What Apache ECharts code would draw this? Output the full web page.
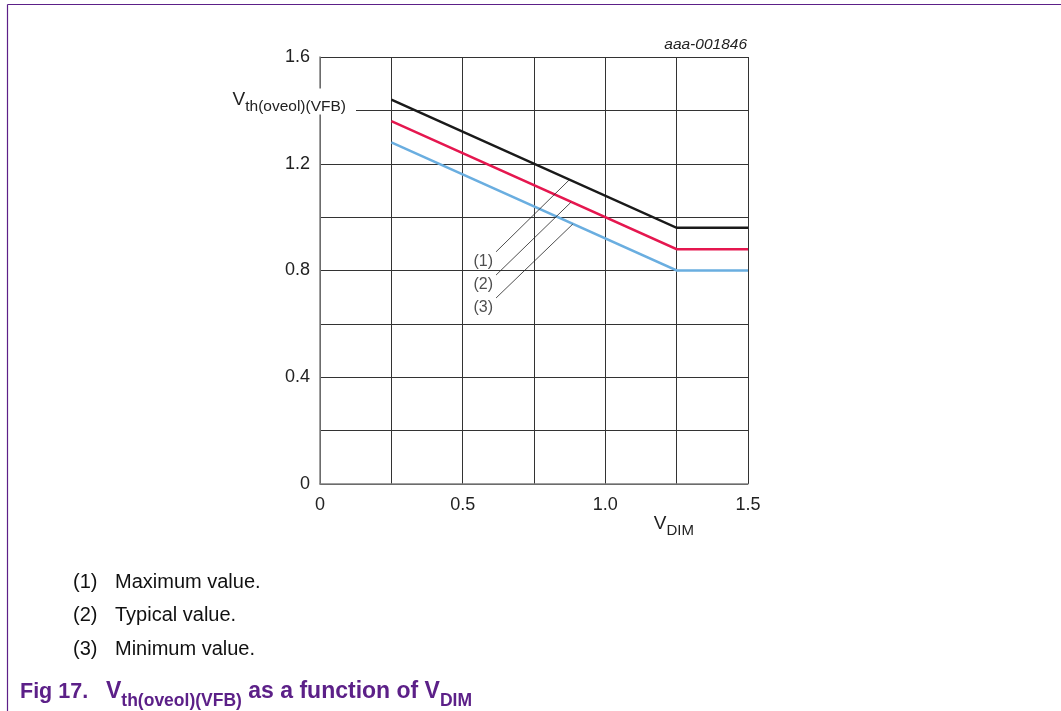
<!DOCTYPE html>
<html>
<head>
<meta charset="utf-8">
<script src="https://cdn.jsdelivr.net/npm/echarts@6/dist/echarts.min.js"></script>
<style>
  html, body { margin: 0; padding: 0; background: #fff; }
  #main { width: 1061px; height: 711px; }
</style>
</head>
<body>
<div id="main"></div>
<script>
// V_DIM points where the curves break
var vDim = [0.25, 1.25, 1.5];
// threshold values (V)
var maxVals = [1.44, 0.96, 0.96];
var typVals = [1.36, 0.88, 0.88];
var minVals = [1.28, 0.80, 0.80];

// tick labels
var xTickVals = [0, 0.5, 1.0, 1.5];
var xTickText = ['0', '0.5', '1.0', '1.5'];
var yTickVals = [0, 0.4, 0.8, 1.2, 1.6];
var yTickText = ['0', '0.4', '0.8', '1.2', '1.6'];

// callout leaders: start (near label) and end (on curve)
var leaderNames = ['(1)', '(2)', '(3)'];
var leaderStart = [[0.617, 0.870], [0.617, 0.783], [0.617, 0.697]];
var leaderEnd = [[0.874, 1.140], [0.879, 1.055], [0.886, 0.974]];

var notes = [['(1)', 'Maximum value.'], ['(2)', 'Typical value.'], ['(3)', 'Minimum value.']];

var FONT = '"Liberation Sans", Arial, sans-serif';
var PURPLE = '#5c2088';

function pickLabel(vals, texts) {
  return function (v) {
    for (var i = 0; i < vals.length; i++) {
      if (Math.abs(vals[i] - v) < 1e-6) return texts[i];
    }
    return '';
  };
}

function pairs(xs, ys) {
  return xs.map(function (x, i) { return [x, ys[i]]; });
}

var chart = echarts.init(document.getElementById('main'), null, { renderer: 'canvas' });

var series = [
  { name: 'max', data: pairs(vDim, maxVals), color: '#1a1a1a' },
  { name: 'typ', data: pairs(vDim, typVals), color: '#e5174f' },
  { name: 'min', data: pairs(vDim, minVals), color: '#6aaee0' }
].map(function (s) {
  return {
    name: s.name,
    type: 'line',
    data: s.data,
    symbol: 'none',
    z: 5,
    lineStyle: { color: s.color, width: 2.5, cap: 'butt', join: 'miter' }
  };
});

// leader lines
leaderStart.forEach(function (p, i) {
  series.push({
    type: 'line',
    data: [p, leaderEnd[i]],
    symbol: 'none',
    z: 6,
    silent: true,
    lineStyle: { color: '#222', width: 0.8 }
  });
});

// leader labels
series.push({
  type: 'scatter',
  symbolSize: 0,
  z: 7,
  data: leaderStart.map(function (p, i) { return { value: p, name: leaderNames[i] }; }),
  label: {
    show: true,
    position: 'left',
    distance: 3,
    offset: [0, 10],
    formatter: function (d) { return d.name; },
    color: '#222',
    fontFamily: FONT,
    fontSize: 16
  }
});

var option = {
  animation: false,
  backgroundColor: '#fff',
  grid: { left: 320, right: 313, top: 57, bottom: 227, containLabel: false },
  xAxis: {
    type: 'value',
    min: 0,
    max: 1.5,
    interval: 0.25,
    axisLine: { show: true, lineStyle: { color: '#808080', width: 1.5 } },
    axisTick: { show: false },
    splitLine: { show: true, lineStyle: { color: '#333', width: 1 } },
    axisLabel: {
      formatter: pickLabel(xTickVals, xTickText),
      color: '#222', fontFamily: FONT, fontSize: 18, margin: 12
    }
  },
  yAxis: {
    type: 'value',
    min: 0,
    max: 1.6,
    interval: 0.2,
    axisLine: { show: true, lineStyle: { color: '#808080', width: 1.5 } },
    axisTick: { show: false },
    splitLine: { show: true, lineStyle: { color: '#333', width: 1 } },
    axisLabel: {
      formatter: pickLabel(yTickVals, yTickText),
      color: '#222', fontFamily: FONT, fontSize: 18, margin: 10
    }
  },
  series: series
};

chart.setOption(option);

// text placed relative to the plot
var yName = chart.convertToPixel({ gridIndex: 0 }, [0, 1.4]);
var xName = chart.convertToPixel({ gridIndex: 0 }, [1.24, 0]);
var corner = chart.convertToPixel({ gridIndex: 0 }, [1.5, 1.6]);

var subRich = function (big, small, weight, color, lh, pad) {
  return {
    v: { fontFamily: FONT, fontSize: big, fontWeight: weight, fill: color, verticalAlign: 'top', lineHeight: lh },
    s: { fontFamily: FONT, fontSize: small, fontWeight: weight, fill: color, verticalAlign: 'bottom', lineHeight: lh, padding: [pad, 0, 0, 0] }
  };
};

var graphic = [
  // page frame
  { type: 'line', shape: { x1: 7.5, y1: 4.5, x2: 1061, y2: 4.5 }, style: { stroke: PURPLE, lineWidth: 1.2 }, z: 50 },
  { type: 'line', shape: { x1: 7.5, y1: 4.5, x2: 7.5, y2: 711 }, style: { stroke: PURPLE, lineWidth: 1.2 }, z: 50 },
  // y axis name with white box over the grid
  {
    type: 'text', z: 100, x: 356, y: yName[1] + 4,
    style: {
      text: '{v|V}{s|th(oveol)(VFB)}',
      align: 'right', verticalAlign: 'bottom',
      backgroundColor: '#fff',
      padding: [2, 10, 0, 2],
      rich: subRich(19, 15.5, 'normal', '#222', 24, 9)
    }
  },
  // x axis name
  {
    type: 'text', z: 100, x: xName[0], y: xName[1] + 30,
    style: {
      text: '{v|V}{s|DIM}',
      align: 'center', verticalAlign: 'top',
      rich: subRich(19, 15, 'normal', '#222', 24, 9)
    }
  },
  // figure code
  {
    type: 'text', z: 100, x: corner[0] - 1, y: corner[1] - 4,
    style: {
      text: 'aaa-001846', align: 'right', verticalAlign: 'bottom',
      fontFamily: FONT, fontSize: 15.5, fontStyle: 'italic', fill: '#222'
    }
  }
];

notes.forEach(function (n, i) {
  var y = 582 + i * 33.5;
  graphic.push({
    type: 'text', z: 100, x: 73, y: y,
    style: { text: n[0], verticalAlign: 'middle', fontFamily: FONT, fontSize: 20, fill: '#111' }
  });
  graphic.push({
    type: 'text', z: 100, x: 115, y: y,
    style: { text: n[1], verticalAlign: 'middle', fontFamily: FONT, fontSize: 20, fill: '#111' }
  });
});

graphic.push({
  type: 'text', z: 100, x: 20, y: 692,
  style: { text: 'Fig 17.', verticalAlign: 'middle', fontFamily: FONT, fontSize: 21.5, fontWeight: 'bold', fill: PURPLE }
});
graphic.push({
  type: 'text', z: 100, x: 106, y: 695,
  style: {
    text: '{v|V}{s|th(oveol)(VFB)}{v| as a function of V}{s|DIM}',
    verticalAlign: 'middle',
    rich: subRich(23, 17.5, 'bold', PURPLE, 30, 7)
  }
});

chart.setOption({ graphic: graphic });
</script>
</body>
</html>
